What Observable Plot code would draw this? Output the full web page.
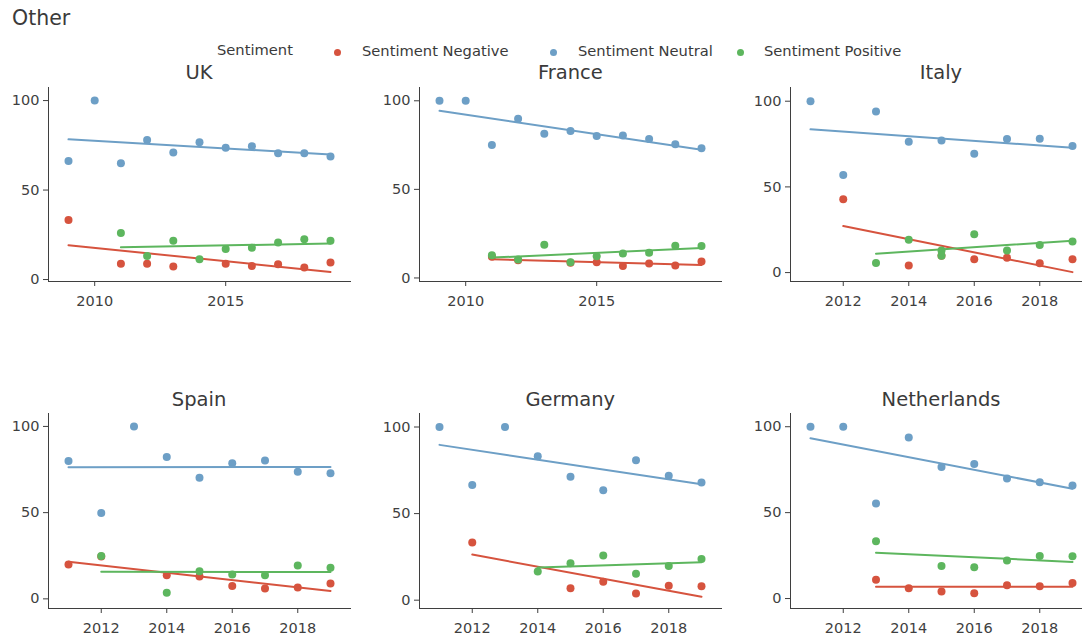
<!DOCTYPE html>
<html><head><meta charset="utf-8">
<script src="https://cdn.jsdelivr.net/npm/d3@7"></script>
<script src="https://cdn.jsdelivr.net/npm/@observablehq/plot@0.6"></script>
<style>
body{margin:0;background:#fff;overflow:hidden;font-family:"DejaVu Sans",sans-serif;}
#root{position:relative;width:1082px;height:640px;overflow:hidden;background:#fff;}
.abs{position:absolute;white-space:nowrap;color:#3a3a3a;line-height:1;}
.dot{position:absolute;width:7px;height:7px;border-radius:50%;}
svg{position:absolute;overflow:visible;}
</style></head><body><div id="root"></div>
<script>
const chartTitle = "Other";
const legendTitle = "Sentiment";
const sentiments = ["Sentiment Negative", "Sentiment Neutral", "Sentiment Positive"];
const colors = ["#d6533e", "#6d9fc6", "#5db65e"];
const countries = ["UK", "France", "Italy", "Spain", "Germany", "Netherlands"];

const ukYears = [2009, 2010, 2011, 2012, 2013, 2014, 2015, 2016, 2017, 2018, 2019];
const ukNegative = [33.3, null, 8.8, 8.8, 7.3, null, 8.8, 7.6, 8.6, 6.7, 9.5];
const ukNeutral = [66.3, 100, 65, 78, 71, 76.7, 73.7, 74.5, 70.6, 70.6, 68.7];
const ukPositive = [null, null, 26, 13.2, 21.6, 11.4, 17.1, 17.7, 20.7, 22.5, 21.6];

const franceYears = [2009, 2010, 2011, 2012, 2013, 2014, 2015, 2016, 2017, 2018, 2019];
const franceNegative = [null, null, 12, 10, null, 8.6, 8.9, 6.7, 8.2, 7.1, 9.3];
const franceNeutral = [100, 100, 75, 89.8, 81.4, 82.9, 80.1, 80.4, 78.4, 75.4, 73.2];
const francePositive = [null, null, 12.8, 10.4, 18.8, 8.9, 12.3, 13.8, 14.2, 18.2, 18.1];

const italyYears = [2011, 2012, 2013, 2014, 2015, 2015, 2016, 2017, 2018, 2019];
const italyNegative = [null, 42.8, null, 4.1, 9.8, null, 7.8, 8.7, 5.4, 7.8];
const italyNeutral = [100, 57, 94, 76.4, 77.1, null, 69.4, 77.9, 78.1, 73.8];
const italyPositive = [null, null, 5.6, 19.2, 12.9, 9.8, 22.3, 12.9, 16.1, 18.2];

const spainYears = [2011, 2012, 2013, 2014, 2015, 2016, 2017, 2018, 2019];
const spainNegative = [19.9, 24.5, null, 13.7, 12.9, 7.5, 6, 6.6, 8.9];
const spainNeutral = [79.9, 49.8, 100, 82.2, 70.3, 78.6, 80.3, 73.7, 72.8];
const spainPositive = [null, 24.9, null, 3.5, 16, 14.1, 13.7, 19.3, 18];

const germanyYears = [2011, 2012, 2013, 2014, 2015, 2016, 2017, 2018, 2019];
const germanyNegative = [null, 33.3, null, null, 6.9, 10.6, 3.8, 8.3, 8.1];
const germanyNeutral = [100, 66.5, 100, 83.1, 71.3, 63.5, 80.8, 71.9, 67.9];
const germanyPositive = [null, null, null, 16.5, 21.3, 25.8, 15.2, 19.8, 23.8];

const netherlandsYears = [2011, 2012, 2013, 2014, 2015, 2016, 2017, 2018, 2019];
const netherlandsNegative = [null, null, 11, 6, 4.1, 3.1, 7.7, 7.2, 9.1];
const netherlandsNeutral = [100, 100, 55.3, 93.8, 76.6, 78.3, 69.8, 67.7, 65.8];
const netherlandsPositive = [null, null, 33.3, null, 19, 18.2, 22.2, 24.8, 24.6];

const xTicksWide = [2010, 2015];
const xTicksNarrow = [2012, 2014, 2016, 2018];
const yTicks = [0, 50, 100];
const yDomains = [[-1.1, 107.3], [-2, 107.5], [-5.2, 108], [-5.6, 107.5], [-4.8, 107.8], [-5.8, 107.7]];

const tables = [
  [ukYears, ukNegative, ukNeutral, ukPositive, xTicksWide],
  [franceYears, franceNegative, franceNeutral, francePositive, xTicksWide],
  [italyYears, italyNegative, italyNeutral, italyPositive, xTicksNarrow],
  [spainYears, spainNegative, spainNeutral, spainPositive, xTicksNarrow],
  [germanyYears, germanyNegative, germanyNeutral, germanyPositive, xTicksNarrow],
  [netherlandsYears, netherlandsNegative, netherlandsNeutral, netherlandsPositive, xTicksNarrow]
];

const root = document.getElementById("root");
function addText(txt, left, top, size, extra) {
  const d = document.createElement("div");
  d.className = "abs";
  d.textContent = txt;
  d.style.left = left + "px";
  d.style.top = top + "px";
  d.style.fontSize = size + "px";
  if (extra) Object.assign(d.style, extra);
  root.appendChild(d);
  return d;
}

// title and legend
addText(chartTitle, 12, 8, 20.5);
addText(legendTitle, 217, 43, 14.7);
const legendDotX = [337, 553, 740];
const legendTextX = [362, 578, 764];
sentiments.forEach((s, i) => {
  const dot = document.createElement("div");
  dot.className = "dot";
  dot.style.background = colors[i];
  dot.style.left = (legendDotX[i] - 3.5) + "px";
  dot.style.top = (52 - 3.5) + "px";
  root.appendChild(dot);
  addText(s, legendTextX[i], 44, 14.7);
});

const colLeft = [48, 419.3, 790];
const rowTop = [87, 413];
const rowHeight = [194, 195];
const frameW = 302;
const mL = 45, mR = 10, mT = 5, mB = 32;

tables.forEach((t, i) => {
  const [years, neg, neu, pos, xticks] = t;
  const data = [];
  [neg, neu, pos].forEach((vals, k) => {
    vals.forEach((v, j) => { if (v != null) data.push({year: years[j], value: v, sentiment: sentiments[k]}); });
  });
  const col = i % 3, row = Math.floor(i / 3);
  const marks = [];
  sentiments.forEach(s => {
    const sub = data.filter(d => d.sentiment === s);
    marks.push(Plot.dot(sub, {x: "year", y: "value", fill: "sentiment", r: 4}));
    marks.push(Plot.linearRegressionY(sub, {x: "year", y: "value", stroke: "sentiment", strokeWidth: 2, ci: 0}));
  });
  const svg = Plot.plot({
    width: mL + frameW + mR,
    height: mT + rowHeight[row] + mB,
    marginLeft: mL, marginRight: mR, marginTop: mT, marginBottom: mB,
    style: {fontFamily: "DejaVu Sans, sans-serif", fontSize: "14.5px", color: "#3f3f3f", background: "transparent", overflow: "visible"},
    x: {domain: d3.extent(years), insetLeft: 20, insetRight: 20, ticks: xticks, tickFormat: d => String(d), tickSize: 5, tickPadding: 9, label: null, line: true},
    y: {domain: yDomains[i], ticks: yTicks, tickSize: 5, tickPadding: 4, label: null, line: true},
    color: {domain: sentiments, range: colors},
    marks
  });
  svg.style.left = (colLeft[col] - mL) + "px";
  svg.style.top = (rowTop[row] - mT) + "px";
  root.appendChild(svg);
  addText(countries[i], colLeft[col] + frameW / 2, (row === 0 ? 73 : 400) - 10, 19.5, {transform: "translateX(-50%)"});
});
</script></body></html>
